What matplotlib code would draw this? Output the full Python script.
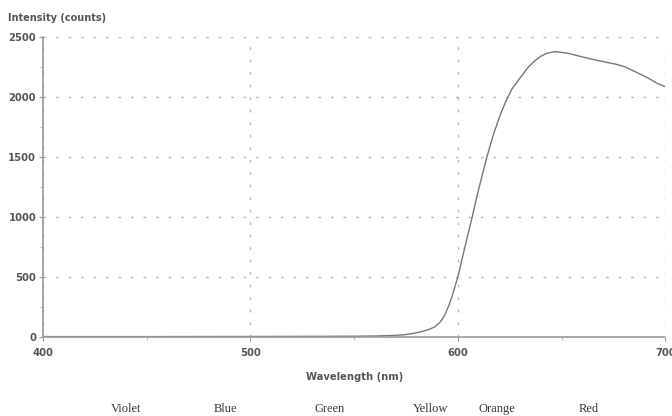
import matplotlib
matplotlib.use("Agg")
import matplotlib.pyplot as plt
from matplotlib.ticker import MultipleLocator

wavelength = [400, 450, 500, 530, 550, 560, 568, 574, 578, 582, 586, 589, 591.5, 593.5,
              595.5, 597.6, 600, 603.2, 606.9, 610, 614, 617, 620, 623, 626, 630,
              634, 637, 640, 643, 646.7, 650, 653.2, 659.6, 667.7, 675.8, 680,
              683.8, 688, 691.9, 696, 700]
intensity = [3, 3, 4, 5, 6, 8, 12, 18, 28, 42, 62, 85, 125, 175,
             255, 360, 500, 735, 1000, 1230, 1500, 1680, 1830, 1960, 2065, 2160,
             2250, 2300, 2340, 2365, 2378, 2372, 2364, 2336, 2303, 2275, 2255,
             2225, 2190, 2156, 2115, 2086]

band_names = ["Violet", "Blue", "Green", "Yellow", "Orange", "Red"]
band_centers = [440, 488, 538, 587, 619, 663]

x_ticks = [400, 500, 600, 700]
y_ticks = [0, 500, 1000, 1500, 2000, 2500]

fig = plt.figure(figsize=(6.72, 4.16), dpi=100)
ax = fig.add_axes([0.064, 0.19, 0.926, 0.721])

ax.plot(wavelength, intensity, color="#777777", lw=1.0)
ax.set_xlim(400, 700)
ax.set_ylim(0, 2500)
ax.set_xticks(x_ticks)
ax.set_yticks(y_ticks)
ax.yaxis.set_minor_locator(MultipleLocator(250))
ax.xaxis.set_minor_locator(MultipleLocator(50))

ax.grid(True, which="major", color="#b8b8b8", linestyle=(0, (2, 7)), lw=1.0)
for s in ["top", "right"]:
    ax.spines[s].set_visible(False)
for s in ["left", "bottom"]:
    ax.spines[s].set_color("#9a9a9a")
    ax.spines[s].set_linewidth(1.2)

ax.tick_params(axis="both", which="major", length=3, color="#9a9a9a",
               labelsize=7.2, labelcolor="#555555")
ax.tick_params(axis="both", which="minor", length=2, color="#b0b0b0")
ax.tick_params(axis="y", pad=2)
ax.tick_params(axis="x", pad=5)
for lab in ax.get_xticklabels() + ax.get_yticklabels():
    lab.set_fontweight("bold")

fig.text(0.012, 0.957, "Intensity (counts)", fontsize=7, fontweight="bold",
         color="#555555", ha="left", va="center")
ax.set_xlabel("Wavelength (nm)", fontsize=7.2, fontweight="bold",
              color="#555555", labelpad=10)

for name, c in zip(band_names, band_centers):
    ax.text(c, -0.24, name, transform=ax.get_xaxis_transform(),
            ha="center", va="center", fontsize=9, family="Liberation Serif",
            color="#3a3a3a")

fig.savefig("out.png", dpi=100, facecolor="white")
